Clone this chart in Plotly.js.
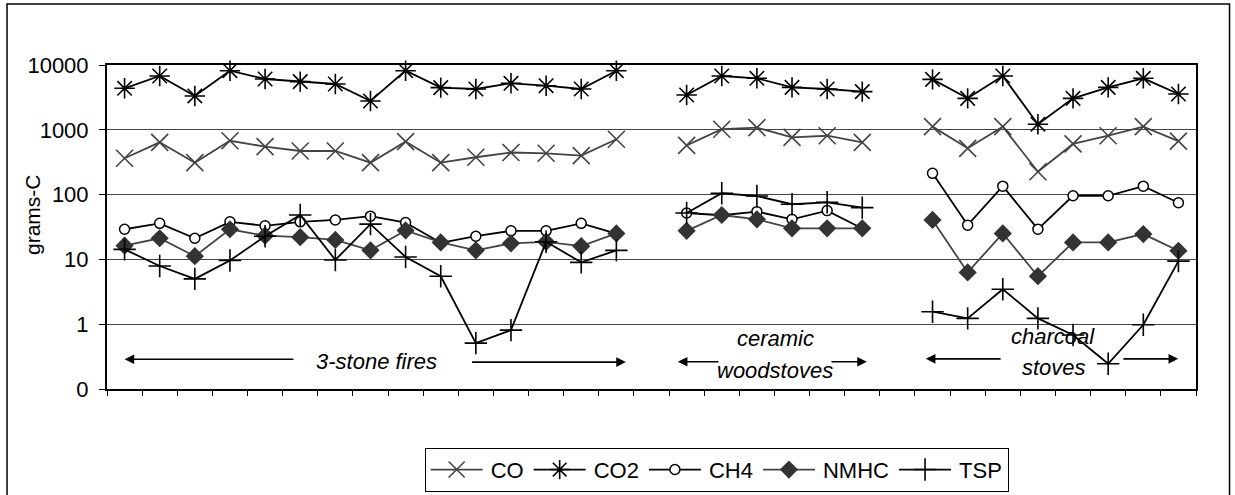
<!DOCTYPE html>
<html>
<head>
<meta charset="utf-8">
<script src="https://cdn.plot.ly/plotly-3.0.1.min.js"></script>
<style>html,body{margin:0;padding:0;background:#fff;}#chart{width:1235px;height:495px;}</style>
</head>
<body>
<div id="chart"></div>
<script>
// Categories: 15 three-stone fires, gap, 6 ceramic woodstoves, gap, 8 charcoal stoves
const categories = [
  "3-stone 1","3-stone 2","3-stone 3","3-stone 4","3-stone 5","3-stone 6","3-stone 7","3-stone 8",
  "3-stone 9","3-stone 10","3-stone 11","3-stone 12","3-stone 13","3-stone 14","3-stone 15",
  "gap A",
  "ceramic 1","ceramic 2","ceramic 3","ceramic 4","ceramic 5","ceramic 6",
  "gap B",
  "charcoal 1","charcoal 2","charcoal 3","charcoal 4","charcoal 5","charcoal 6","charcoal 7","charcoal 8"
];

const CO   = [364, 641, 311, 678, 550, 471, 471, 311, 656, 311, 377, 446, 434, 399, 715, null,
              576, 1020, 1080, 765, 810, 641, null,
              1120, 518, 1120, 225, 605, 810, 1120, 670];
const CO2  = [4370, 6770, 3330, 8170, 6080, 5530, 5090, 2780, 8170, 4470, 4260, 5220, 4790, 4260, 8170, null,
              3440, 6770, 6230, 4520, 4260, 3880, null,
              6000, 3060, 6770, 1220, 3060, 4520, 6230, 3570];
const CH4  = [29.2, 36, 21.2, 38, 33, 38, 40.6, 46.5, 37, 18, 22.8, 27.6, 27.6, 36, 25, null,
              52, 48, 54.6, 41.5, 56.6, 30, null,
              213, 33.8, 135, 29.3, 96, 96, 135, 75];
const NMHC = [16.3, 21.2, 11.2, 29.2, 23.2, 22, 20, 13.8, 28, 18.3, 13.8, 17.7, 18.7, 16, 25.2, null,
              27.6, 48.4, 41.5, 30.2, 30.2, 30.2, null,
              40.6, 6.3, 25.2, 5.5, 18.3, 18.3, 24.6, 13.6];
const TSP  = [14.3, 7.9, 5.0, 9.6, 22.8, 48.4, 9.8, 35, 10.9, 5.5, 0.51, 0.81, 18.7, 9, 13.8, null,
              52, 105, 95, 71, 76, 63, null,
              1.56, 1.23, 3.47, 1.23, 0.68, 0.245, 0.98, 9.4];

const yTickVals = [0.1, 1, 10, 100, 1000, 10000];
const yTickText = ["0", "1", "10", "100", "1000", "10000"];

const FONT = "Liberation Sans, Arial, Helvetica, sans-serif";

function tr(name, y, lineColor, marker) {
  return {
    type: "scatter", mode: "lines+markers", name: name,
    x: categories, y: y, connectgaps: false,
    line: {color: lineColor, width: 1.8},
    marker: marker, cliponaxis: false
  };
}

const data = [
  tr("CO", CO, "#444", {symbol: "x-thin-open", size: 17, color: "#444", line: {color: "#444", width: 1.6}}),
  tr("CO2", CO2, "#000", {symbol: "asterisk-open", size: 17, color: "#000", line: {color: "#000", width: 1.6}}),
  tr("CH4", CH4, "#000", {symbol: "circle", size: 10, color: "#fff", line: {color: "#000", width: 1.5}}),
  tr("NMHC", NMHC, "#444", {symbol: "diamond", size: 14, color: "#333", line: {width: 0}}),
  tr("TSP", TSP, "#000", {symbol: "cross-thin-open", size: 16, color: "#000", line: {color: "#000", width: 1.6}})
];

function arrow(xHead, xTail, yPaper) {
  return {xref: "x", yref: "paper", axref: "x", ayref: "pixel",
          x: xHead, y: yPaper, ax: xTail, ay: 0, text: "",
          showarrow: true, arrowhead: 2, arrowsize: 1.2, arrowwidth: 1.6, arrowcolor: "#000"};
}
function label(text, x, yPaper) {
  return {xref: "x", yref: "paper", x: x, y: yPaper, text: text, showarrow: false,
          font: {family: FONT, size: 22, color: "#000", style: "italic"},
          xanchor: "center", yanchor: "middle"};
}

const LEGEND_LINE = 52;

const layout = {
  width: 1235, height: 495,
  margin: {l: 107, r: 39, t: 65, b: 106},
  paper_bgcolor: "#fff", plot_bgcolor: "#fff",
  font: {family: FONT, size: 22, color: "#000"},
  showlegend: true,
  legend: {orientation: "h", xref: "container", yref: "container",
           x: 0.5803, xanchor: "center", y: 0.0955, yanchor: "top",
           bordercolor: "#000", borderwidth: 1, bgcolor: "#fff",
           itemwidth: LEGEND_LINE + 3, tracegroupgap: 0,
           font: {family: FONT, size: 22, color: "#000"}, itemsizing: "trace"},
  xaxis: {
    type: "category", categoryorder: "array", categoryarray: categories,
    range: [-0.5, categories.length - 0.5],
    showticklabels: false, ticks: "outside", tickson: "boundaries", ticklen: 5,
    tickcolor: "#000", tickwidth: 1,
    showgrid: false, zeroline: false,
    showline: true, linecolor: "#000", linewidth: 2, mirror: true, fixedrange: true
  },
  yaxis: {
    type: "log", range: [-1, 4],
    tickvals: yTickVals, ticktext: yTickText,
    ticks: "outside", ticklen: 6, tickcolor: "#000", tickwidth: 1,
    ticklabelstandoff: 6,
    tickfont: {family: FONT, size: 22, color: "#000"},
    showgrid: true, gridcolor: "#444", gridwidth: 1,
    zeroline: false, showline: true, linecolor: "#000", linewidth: 2, mirror: true,
    fixedrange: true
  },
  annotations: [
    {xref: "paper", yref: "paper", x: -0.0689, y: 0.54, text: "grams-C", textangle: -90,
     showarrow: false, font: {family: FONT, size: 21, color: "#000"}, xanchor: "center", yanchor: "middle"},
    label("3-stone fires", 7.16, 0.084),
    arrow(0.0, 4.85, 0.092),
    arrow(14.27, 9.85, 0.083),
    label("ceramic", 18.52, 0.157),
    label("woodstoves", 18.52, 0.056),
    arrow(15.75, 16.95, 0.084),
    arrow(21.13, 20.08, 0.084),
    label("charcoal", 26.43, 0.161),
    label("stoves", 26.45, 0.065),
    arrow(22.81, 24.98, 0.093),
    arrow(29.99, 28.39, 0.093)
  ],
  shapes: [
    {type: "rect", xref: "paper", yref: "paper", x0: -0.0918, x1: 1.0308, y0: -0.35, y1: 1.188,
     line: {color: "#000", width: 1.5}, fillcolor: "rgba(0,0,0,0)", layer: "below"}
  ]
};

Plotly.newPlot("chart", data, layout, {displayModeBar: false, staticPlot: true}).then(function (gd) {
  // stretch the legend line samples to match the reference's longer sample lines
  gd.querySelectorAll(".legend .traces").forEach(function (t) {
    t.querySelectorAll("path.js-line").forEach(function (p) {
      p.setAttribute("d", "M5,0h" + LEGEND_LINE);
    });
    t.querySelectorAll(".legendpoints path.scatterpts").forEach(function (p) {
      p.setAttribute("transform", "translate(" + (5 + LEGEND_LINE / 2) + ",0)");
    });
  });
});
</script>
</body>
</html>
